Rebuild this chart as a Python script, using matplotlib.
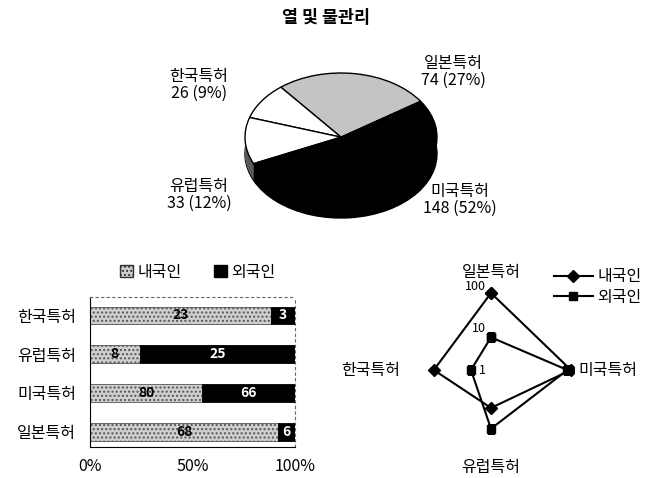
import numpy as np
import matplotlib
matplotlib.use('Agg')
import matplotlib.pyplot as plt
from matplotlib.patches import Patch

plt.rcParams['font.family'] = ['Noto Sans CJK KR', 'DejaVu Sans']

title = '열 및 물관리'

# pie data (counter-clockwise order starting upper right)
pie_labels = ['일본특허', '한국특허', '유럽특허', '미국특허']
pie_values = [74, 26, 33, 148]
pie_pcts = ['27%', '9%', '12%', '52%']

# stacked bar data (top to bottom)
bar_cats = ['한국특허', '유럽특허', '미국특허', '일본특허']
domestic = [23, 8, 80, 68]
foreign = [3, 25, 66, 6]

# radar data
radar_cats = ['일본특허', '미국특허', '유럽특허', '한국특허']
radar_dom = [68, 80, 8, 23]
radar_for = [6, 66, 25, 3]

W, H = 672, 478
FS = 11.5
fig = plt.figure(figsize=(W / 100, H / 100), dpi=100)


def rect(x0, y0, x1, y1):
    return [x0 / W, 1 - y1 / H, (x1 - x0) / W, (y1 - y0) / H]


fig.text(326 / W, 1 - 18 / H, title, ha='center', va='center',
         fontsize=12.5, fontweight='bold')

# ---- 3D-looking pie ----
ax_pie = fig.add_axes(rect(245, 73, 437, 218))
top_cols = ['#c4c4c4', 'white', 'white', 'black']
side_cols = ['#7a7a7a', '#8a8a8a', '#5a5a5a', 'black']
depth = 0.26
start = 34
n_layers = 30
ax_pie.pie(pie_values, colors=side_cols, startangle=start, center=(0, -depth),
           wedgeprops=dict(edgecolor='black', linewidth=1.0))
for k in range(1, n_layers):
    ax_pie.pie(pie_values, colors=side_cols, startangle=start,
               center=(0, -depth + depth * k / n_layers),
               wedgeprops=dict(edgecolor='none'))
ax_pie.pie(pie_values, colors=top_cols, startangle=start,
           wedgeprops=dict(edgecolor='black', linewidth=1.0))
ax_pie.set_aspect('auto')
ax_pie.set_xlim(-1.0, 1.0)
ax_pie.set_ylim(-1.0 - depth, 1.0)
ax_pie.axis('off')

pie_text_pos = {'일본특허': (453, 72), '한국특허': (199, 85),
                '유럽특허': (199, 195), '미국특허': (460, 200)}
for lab, v, p in zip(pie_labels, pie_values, pie_pcts):
    x, y = pie_text_pos[lab]
    fig.text(x / W, 1 - y / H, f'{lab}\n{v} ({p})', ha='center', va='center',
             fontsize=FS, linespacing=1.05)

# ---- 100% stacked bar ----
ax_bar = fig.add_axes(rect(90, 297, 295, 447))
tot = np.array(domestic) + np.array(foreign)
dom_pct = np.array(domestic) / tot * 100
for_pct = np.array(foreign) / tot * 100
ypos = np.arange(len(bar_cats))
bh = 0.45
ax_bar.barh(ypos, dom_pct, height=bh, color='#cfcfcf', edgecolor='#555555',
            linewidth=0.6, hatch='....')
ax_bar.barh(ypos, for_pct, left=dom_pct, height=bh, color='black',
            edgecolor='black', linewidth=0.6)
for i in range(len(bar_cats)):
    ax_bar.text(dom_pct[i] / 2, ypos[i], str(domestic[i]), ha='center',
                va='center', fontsize=10, fontweight='bold', color='black')
    ax_bar.text(dom_pct[i] + for_pct[i] / 2, ypos[i], str(foreign[i]),
                ha='center', va='center', fontsize=10, fontweight='bold',
                color='white')
ax_bar.set_xlim(0, 100)
ax_bar.set_ylim(3 + 0.39, -0.47)
ax_bar.set_yticks(ypos)
ax_bar.set_yticklabels(bar_cats, fontsize=FS)
ax_bar.set_xticks([0, 50, 100])
ax_bar.set_xticklabels(['0%', '50%', '100%'], fontsize=FS)
ax_bar.tick_params(length=0)
ax_bar.tick_params(axis='x', pad=8)
ax_bar.tick_params(axis='y', pad=10)
ax_bar.spines['top'].set_linestyle((0, (2, 3)))
ax_bar.spines['right'].set_linestyle((0, (2, 3)))
ax_bar.spines['top'].set_color('#666666')
ax_bar.spines['right'].set_color('#666666')
ax_bar.legend([Patch(facecolor='#cfcfcf', edgecolor='#333333', hatch='....'),
               Patch(facecolor='black', edgecolor='black')],
              ['내국인', '외국인'], ncol=2, frameon=False, fontsize=FS,
              loc='center', bbox_to_anchor=(198 / W, 1 - 272 / H),
              bbox_transform=fig.transFigure, handlelength=0.8,
              handleheight=0.8, handletextpad=0.3, columnspacing=2.0)

# ---- radar (log scale) ----
ax_r = fig.add_axes(rect(407, 286, 575, 454), projection='polar')
ax_r.set_theta_zero_location('N')
ax_r.set_theta_direction(-1)
ax_r.set_rscale('log')
ax_r.set_rlim(1, 100)
theta = np.deg2rad(np.arange(len(radar_cats)) * 90)
tc = np.append(theta, theta[0])
ax_r.plot(tc, radar_dom + radar_dom[:1], color='black', lw=1.5,
          marker='D', markersize=6.5, label='내국인')
ax_r.plot(tc, radar_for + radar_for[:1], color='black', lw=1.5,
          marker='s', markersize=6, label='외국인')
ax_r.grid(False)
ax_r.spines['polar'].set_visible(False)
ax_r.set_xticks([])
ax_r.set_yticks([])
cat_offsets = [(0, 10, 'center', 'center'), (2.5, 0, 'left', 'center'),
               (0, -9.5, 'center', 'center'), (-5, 0, 'right', 'center')]
for t, lab, (dx, dy, ha, va) in zip(theta, radar_cats, cat_offsets):
    ax_r.annotate(lab, xy=(t, 100), xytext=(dx, dy), textcoords='offset points',
                  ha=ha, va=va, fontsize=FS, annotation_clip=False)
for v, lab in zip([1, 10, 100], ['1', '10', '100']):
    ax_r.annotate(lab, xy=(0, v), xytext=(-4, 0), textcoords='offset points',
                  ha='right', va='center', fontsize=9)
ax_r.legend(loc='center', bbox_to_anchor=(598 / W, 1 - 287 / H),
            bbox_transform=fig.transFigure, frameon=False, fontsize=FS,
            handlelength=2.4, labelspacing=0.2, handletextpad=0.3)

fig.savefig('out.png', dpi=100)
